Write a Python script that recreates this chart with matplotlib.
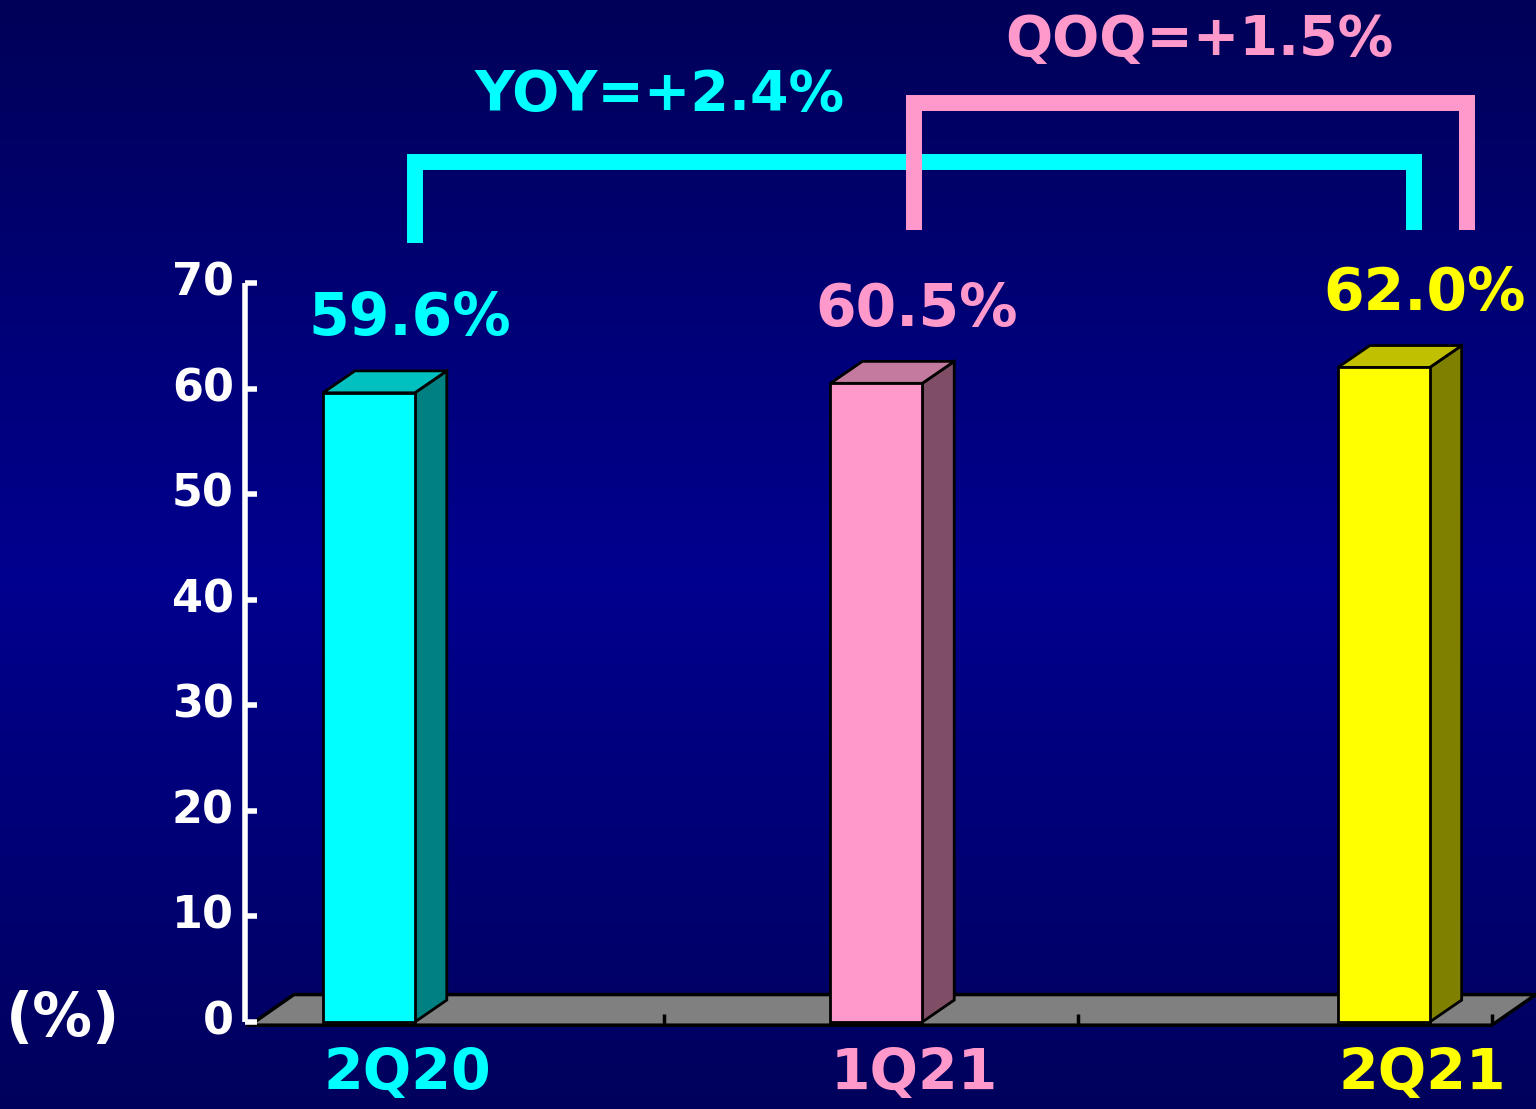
import numpy as np
import matplotlib
matplotlib.use("Agg")
import matplotlib.pyplot as plt
from matplotlib.patches import Polygon
from matplotlib.colors import LinearSegmentedColormap

# ---- data ----
categories = ["2Q20", "1Q21", "2Q21"]
values = [59.6, 60.5, 62.0]
value_labels = ["59.6%", "60.5%", "62.0%"]
yticks = [0, 10, 20, 30, 40, 50, 60, 70]
yoy_label = "YOY=+2.4%"
qoq_label = "QOQ=+1.5%"
unit_label = "(%)"

# ---- style ----
front_colors = ["#00FFFF", "#FF99CC", "#FFFF00"]
top_colors = ["#00C0C0", "#C47A9E", "#C0C000"]
side_colors = ["#008080", "#7F4D66", "#808000"]
label_colors = ["#00FFFF", "#FF99CC", "#FFFF00"]
CYAN, PINK = "#00FFFF", "#FF99CC"
FONT = "DejaVu Sans"

W, H = 1536, 1109
fig = plt.figure(figsize=(W / 100, H / 100), dpi=100)

# background gradient (dark - lighter - dark)
bg = fig.add_axes([0, 0, 1, 1])
t = np.linspace(0, 1, 256)
prof = 1 - np.abs(t - 0.52) / 0.52
prof = np.clip(prof, 0, 1)
cmap = LinearSegmentedColormap.from_list("bgblue", ["#000058", "#00008F"])
bg.imshow(prof[:, None], aspect="auto", cmap=cmap, extent=[0, 1, 0, 1], vmin=0, vmax=1)
bg.axis("off")

ax = fig.add_axes([0, 0, 1, 1], zorder=2)
ax.patch.set_alpha(0)
ax.set_xlim(-0.727, 2.300)
ax.set_ylim(-8.24, 96.81)
ax.axis("off")

x = np.arange(len(categories))
bw = 0.181          # bar front width
ddx, ddy = 0.063, 2.08   # bar depth offset

# floor
fl_x0, fl_x1, fl_y0 = -0.2345, 2.213, -0.3
fdx, fdy = 0.0867, 2.9
floor = Polygon([(fl_x0, fl_y0), (fl_x1, fl_y0), (fl_x1 + fdx, fl_y0 + fdy),
                 (fl_x0 + fdx, fl_y0 + fdy)], closed=True, facecolor="#808080",
                edgecolor="black", lw=2.5, zorder=1)
ax.add_patch(floor)
for k in range(1, 4):
    xf = fl_x0 + (fl_x1 - fl_x0) * k / 3
    ax.plot([xf, xf], [fl_y0, fl_y0 + 1.1], color="black", lw=2.5, zorder=1.5,
            solid_capstyle="butt")

# 3D bars
for i, (xi, v) in enumerate(zip(x, values)):
    l, r = xi - bw / 2, xi + bw / 2
    side = Polygon([(r, 0), (r + ddx, ddy), (r + ddx, v + ddy), (r, v)],
                   facecolor=side_colors[i], edgecolor="black", lw=2, zorder=3)
    top = Polygon([(l, v), (r, v), (r + ddx, v + ddy), (l + ddx, v + ddy)],
                  facecolor=top_colors[i], edgecolor="black", lw=2, zorder=3)
    front = Polygon([(l, 0), (r, 0), (r, v), (l, v)],
                    facecolor=front_colors[i], edgecolor="black", lw=2, zorder=4)
    for p in (side, top, front):
        ax.add_patch(p)
    ax.text(xi + 0.08, v + 7.0, value_labels[i], color=label_colors[i],
            fontsize=42, fontweight="bold", family=FONT, ha="center", va="center")
    ax.text(xi + 0.075, -5.0, categories[i], color=label_colors[i],
            fontsize=41, fontweight="bold", family=FONT, ha="center", va="center")

# y axis
yx = -0.2443
ax.plot([yx, yx], [0, yticks[-1]], color="white", lw=4, zorder=5, solid_capstyle="butt")
for yt in yticks:
    ax.plot([yx, yx + 0.024], [yt, yt], color="white", lw=4, zorder=5, solid_capstyle="butt")
    ax.text(yx - 0.022, yt, str(yt), color="white", fontsize=32, fontweight="bold",
            family=FONT, ha="right", va="center")
ax.text(-0.603, 0.2, unit_label, color="white", fontsize=43, fontweight="bold",
        family=FONT, ha="center", va="center")

# YOY bracket (cyan)
yoy_x0, yoy_x1 = x[0] + 0.0906, x[2] + 0.059
ax.plot([yoy_x0, yoy_x0, yoy_x1, yoy_x1], [73.8, 81.45, 81.45, 75.0], color=CYAN,
        lw=11.5, solid_joinstyle="miter", solid_capstyle="butt", zorder=6)
ax.text(0.573, 87.8, yoy_label, color=CYAN, fontsize=40, fontweight="bold",
        family=FONT, ha="center", va="center")

# QOQ bracket (pink)
qoq_x0, qoq_x1 = x[1] + 0.075, x[2] + 0.165
ax.plot([qoq_x0, qoq_x0, qoq_x1, qoq_x1], [75.0, 87.1, 87.1, 75.0], color=PINK,
        lw=11.5, solid_joinstyle="miter", solid_capstyle="butt", zorder=7)
ax.text(1.637, 93.0, qoq_label, color=PINK, fontsize=40, fontweight="bold",
        family=FONT, ha="center", va="center")

fig.savefig("out.png", dpi=100)
